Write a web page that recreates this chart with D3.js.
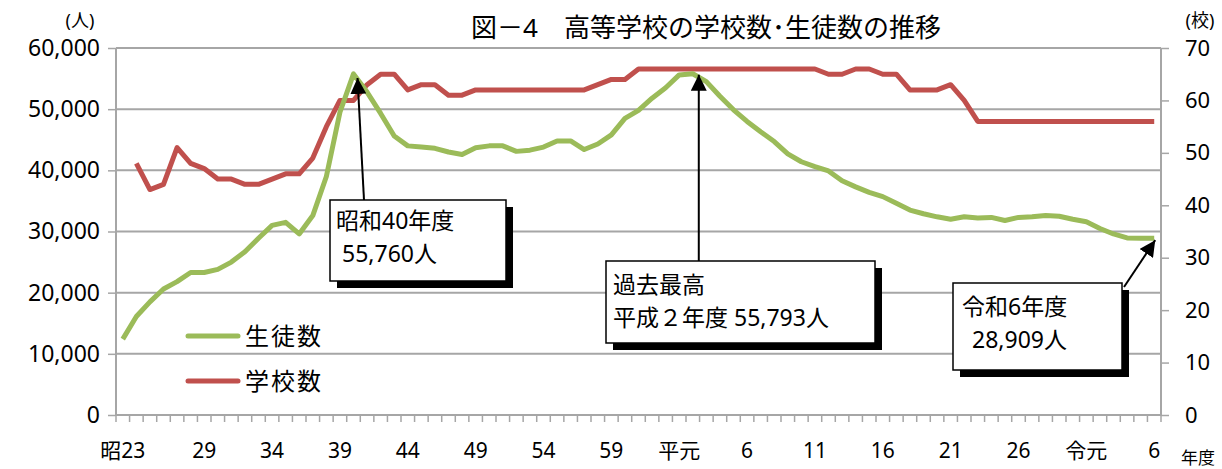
<!DOCTYPE html>
<html>
<head>
<meta charset="utf-8">
<script src="https://cdn.jsdelivr.net/npm/d3@7"></script>
<style>
  body { margin: 0; background: #fff; }
  svg { display: block; }
  text { font-family: "Noto Sans", "Noto Sans CJK JP", sans-serif; fill: #000; }
</style>
</head>
<body>
<svg width="1222" height="469"></svg>
<script>
// fiscal years 昭23 (1948) .. 令6 (2024)
var years = d3.range(1948, 2025);
var tickYears = [1948, 1954, 1959, 1964, 1969, 1974, 1979, 1984, 1989, 1994, 1999, 2004, 2009, 2014, 2019, 2024];
var tickLabels = ["昭23", "29", "34", "39", "44", "49", "54", "59", "平元", "6", "11", "16", "21", "26", "令元", "6"];

// 生徒数 (人)
var students = [
  12400, 16100, 18500, 20600, 21800, 23300, 23300, 23800, 25000, 26700,
  28900, 31000, 31500, 29600, 32600, 39000, 49500, 55760, 52800, 49300,
  45600, 44000, 43800, 43600, 43000, 42600, 43700, 44000, 44000, 43100,
  43300, 43800, 44800, 44800, 43400, 44300, 45800, 48500, 49800, 51800,
  53500, 55600, 55793, 54500, 52100, 49900, 48000, 46300, 44700, 42700,
  41400, 40600, 39900, 38300, 37300, 36400, 35700, 34600, 33500, 32900,
  32400, 32000, 32400, 32200, 32300, 31800, 32300, 32400, 32600, 32500,
  32000, 31600, 30500, 29600, 28950, 28900, 28909
];
// 学校数 (校)
var schools = [
  null, 48, 43, 44, 51, 48, 47, 45, 45, 44,
  44, 45, 46, 46, 49, 55, 60, 60, 63, 65,
  65, 62, 63, 63, 61, 61, 62, 62, 62, 62,
  62, 62, 62, 62, 62, 63, 64, 64, 66, 66,
  66, 66, 66, 66, 66, 66, 66, 66, 66, 66,
  66, 66, 65, 65, 66, 66, 65, 65, 62, 62,
  62, 63, 60, 56, 56, 56, 56, 56, 56, 56,
  56, 56, 56, 56, 56, 56, 56
];

var seriesNames = ["生徒数", "学校数"];
var seriesColors = ["#9BBB59", "#C0504D"];

var svg = d3.select("svg");
var plot = { left: 116, right: 1161, top: 48, bottom: 415 };

var x = d3.scaleBand().domain(years).range([plot.left, plot.right]);
var cx = function (yr) { return x(yr) + x.bandwidth() / 2; };
var y = d3.scaleLinear().domain([0, 60000]).range([plot.bottom, plot.top]);
var yR = d3.scaleLinear().domain([0, 70]).range([plot.bottom, plot.top]);

// gridlines
svg.append("g")
  .selectAll("line")
  .data(y.ticks(6).filter(function (d) { return d > 0; }))
  .enter()
  .append("line")
  .attr("x1", plot.left)
  .attr("x2", plot.right)
  .attr("y1", function (d) { return y(d); })
  .attr("y2", function (d) { return y(d); })
  .style("stroke", "#a6a6a6")
  .style("stroke-width", 2);

// left axis
var yAxis = d3.axisLeft(y).tickValues(d3.range(0, 60001, 10000))
  .tickFormat(d3.format(",")).tickSizeInner(8).tickSizeOuter(0).tickPadding(8);
var gY = svg.append("g").attr("transform", "translate(" + plot.left + ",0)").call(yAxis);

// right axis
var yRAxis = d3.axisRight(yR).tickValues(d3.range(0, 71, 10))
  .tickSizeInner(8).tickSizeOuter(0).tickPadding(16);
var gYR = svg.append("g").attr("transform", "translate(" + plot.right + ",0)").call(yRAxis);

// bottom axis: tick marks at category boundaries
var gX = svg.append("g");
gX.selectAll("line.tk")
  .data(years.concat([null]))
  .enter()
  .append("line")
  .attr("x1", function (d, i) { return plot.left + i * x.step(); })
  .attr("x2", function (d, i) { return plot.left + i * x.step(); })
  .attr("y1", plot.bottom)
  .attr("y2", plot.bottom + 7)
  .style("stroke", "#a6a6a6")
  .style("stroke-width", 1.5);
gX.append("line")
  .attr("x1", plot.left).attr("x2", plot.right)
  .attr("y1", plot.bottom).attr("y2", plot.bottom)
  .style("stroke", "#a6a6a6").style("stroke-width", 2);
gX.selectAll("text")
  .data(tickYears)
  .enter()
  .append("text")
  .attr("x", function (d) { return cx(d); })
  .attr("y", 458)
  .attr("text-anchor", "middle")
  .style("font-size", "21px")
  .text(function (d, i) { return tickLabels[i]; });

[gY, gYR].forEach(function (g) {
  g.selectAll(".tick line").style("stroke", "#a6a6a6").style("stroke-width", 1.5);
  g.selectAll(".tick text").style("font-size", "22px").attr("font-family", null);
  g.select(".domain").remove();
  g.append("line").attr("x1", 0).attr("x2", 0).attr("y1", plot.top).attr("y2", plot.bottom)
    .style("stroke", "#a6a6a6").style("stroke-width", 2);
});
gY.selectAll(".tick text").style("font-size", "23px");

// lines
var lineS = d3.line()
  .x(function (d, i) { return cx(years[i]); })
  .y(function (d) { return y(d); });
var lineC = d3.line()
  .defined(function (d) { return d != null; })
  .x(function (d, i) { return cx(years[i]); })
  .y(function (d) { return yR(d); });

svg.append("path").datum(schools).attr("d", lineC)
  .style("fill", "none").style("stroke", seriesColors[1]).style("stroke-width", 5)
  .style("stroke-linejoin", "round");
svg.append("path").datum(students).attr("d", lineS)
  .style("fill", "none").style("stroke", seriesColors[0]).style("stroke-width", 5)
  .style("stroke-linejoin", "round");

// legend
var legend = svg.append("g");
seriesNames.forEach(function (name, i) {
  var ly = 336 + i * 45;
  legend.append("line")
    .attr("x1", 188).attr("x2", 238).attr("y1", ly).attr("y2", ly)
    .style("stroke", seriesColors[i]).style("stroke-width", 5).style("stroke-linecap", "round");
  legend.append("text")
    .attr("x", 245).attr("y", ly + 9)
    .style("font-size", "24px").style("letter-spacing", "2px")
    .text(name);
});

// annotations
svg.append("defs").append("marker")
  .attr("id", "arrow")
  .attr("viewBox", "0 0 10 10")
  .attr("refX", 10).attr("refY", 5)
  .attr("markerWidth", 16).attr("markerHeight", 16)
  .attr("markerUnits", "userSpaceOnUse")
  .attr("orient", "auto")
  .append("path").attr("d", "M0,0 L10,5 L0,10 z").style("fill", "#000");

function callout(box, lines, from, to) {
  var g = svg.append("g");
  g.append("line")
    .attr("x1", from[0]).attr("y1", from[1])
    .attr("x2", to[0]).attr("y2", to[1])
    .style("stroke", "#000").style("stroke-width", 2)
    .attr("marker-end", "url(#arrow)");
  g.append("rect")
    .attr("x", box.x + 7).attr("y", box.y + 7)
    .attr("width", box.w).attr("height", box.h)
    .style("fill", "#000");
  g.append("rect")
    .attr("x", box.x).attr("y", box.y)
    .attr("width", box.w).attr("height", box.h)
    .style("fill", "#fff").style("stroke", "#000").style("stroke-width", 1.5);
  lines.forEach(function (l) {
    g.append("text")
      .attr("x", l.x).attr("y", l.y)
      .style("font-size", "23px")
      .text(l.t);
  });
}

var i40 = years.indexOf(1965), iH2 = years.indexOf(1990), iR6 = years.indexOf(2024);

callout({ x: 330, y: 200, w: 176, h: 81 },
  [{ x: 336, y: 229, t: "昭和40年度" }, { x: 342, y: 262, t: "55,760人" }],
  [364, 200], [cx(years[i40]) + 4, y(students[i40]) + 4]);

callout({ x: 606, y: 261, w: 269, h: 82 },
  [{ x: 613, y: 293, t: "過去最高" }, { x: 613, y: 326, t: "平成２年度 55,793人" }],
  [cx(years[iH2]) + 6, 261], [cx(years[iH2]) + 6, y(students[iH2]) + 1]);

callout({ x: 953, y: 283, w: 169, h: 87 },
  [{ x: 962, y: 315, t: "令和6年度" }, { x: 972, y: 348, t: "28,909人" }],
  [1124, 287], [cx(years[iR6]) + 1, y(students[iR6]) + 2]);

// titles and units
svg.append("text")
  .attr("x", 706).attr("y", 37)
  .attr("text-anchor", "middle")
  .style("font-size", "26px")
  .text("図－4　高等学校の学校数･生徒数の推移");
svg.append("text").attr("x", 80).attr("y", 27).attr("text-anchor", "middle")
  .style("font-size", "18px").text("(人)");
svg.append("text").attr("x", 1200).attr("y", 27).attr("text-anchor", "middle")
  .style("font-size", "18px").text("(校)");
svg.append("text").attr("x", 1198).attr("y", 464).attr("text-anchor", "middle")
  .style("font-size", "17px").text("年度");
</script>
</body>
</html>
